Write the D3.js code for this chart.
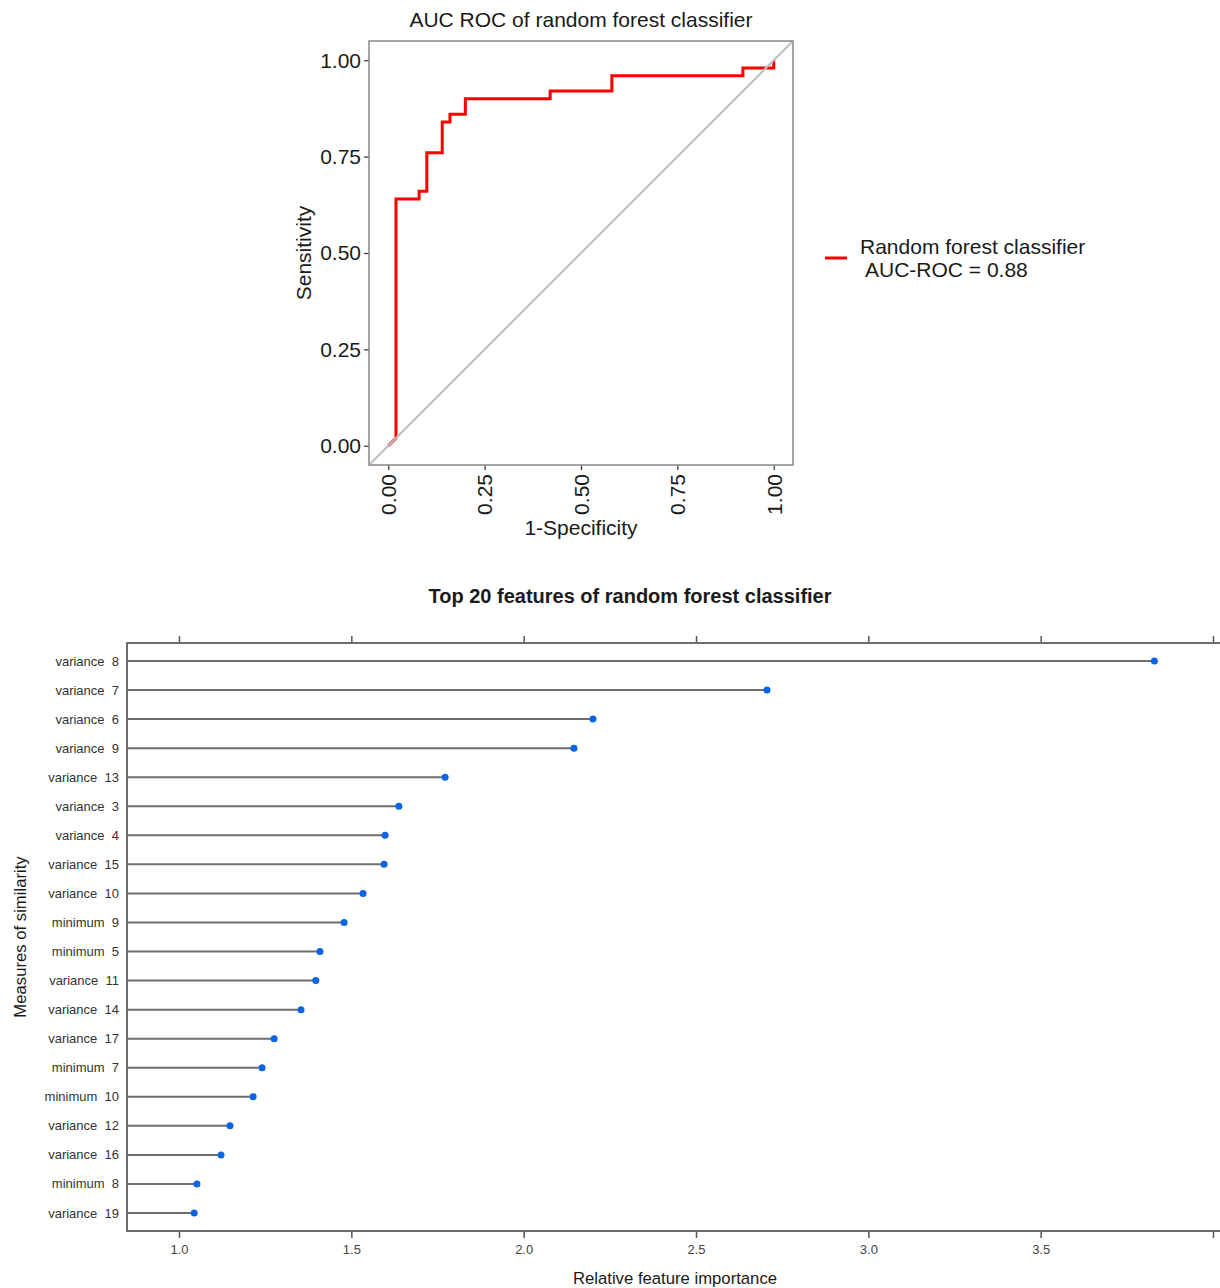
<!DOCTYPE html>
<html>
<head>
<meta charset="utf-8">
<script src="https://cdn.jsdelivr.net/npm/d3@7"></script>
<style>
body{margin:0;background:#fff;}
svg{font-family:"Liberation Sans",Arial,sans-serif;}
</style>
</head>
<body>
<div id="main_div"></div>
<script>
// ROC curve points
let fpr=[0,0.02,0.02,0.08,0.08,0.10,0.10,0.14,0.14,0.16,0.16,0.20,0.20,0.42,0.42,0.58,0.58,0.92,0.92,1.00,1.00];
let tpr=[0,0.02,0.64,0.64,0.66,0.66,0.76,0.76,0.84,0.84,0.86,0.86,0.90,0.90,0.92,0.92,0.96,0.96,0.98,0.98,1.00];
let rocTicks=[0,0.25,0.5,0.75,1];

// feature importance
let features=["variance  8","variance  7","variance  6","variance  9","variance  13","variance  3","variance  4",
    "variance  15","variance  10","minimum  9","minimum  5","variance  11","variance  14","variance  17",
    "minimum  7","minimum  10","variance  12","variance  16","minimum  8","variance  19"];
let importance=[3.83,2.706,2.201,2.146,1.772,1.638,1.598,1.595,1.534,1.479,1.409,1.397,1.354,1.276,
    1.241,1.215,1.148,1.122,1.052,1.044];
let impTicks=[1.0,1.5,2.0,2.5,3.0,3.5,4.0];

let svg=d3.select("#main_div").append("svg")
    .attr("width",1220).attr("height",1288).attr("id","main_svg");

drawRoc();
drawImportance();

function drawRoc(){
    let xScale=d3.scaleLinear().domain([-0.05,1.05]).range([369,793]);
    let yScale=d3.scaleLinear().domain([-0.05,1.05]).range([465,41]);
    let g=svg.append("g");

    g.append("text").text("AUC ROC of random forest classifier")
        .attr("x",581).attr("y",27).attr("text-anchor","middle")
        .style("font-size","21px").attr("fill","#1a1a1a");

    // axes
    let yAxis=d3.axisLeft(yScale).tickValues(rocTicks).tickFormat(d3.format(".2f")).tickSize(5).tickPadding(3);
    let xAxis=d3.axisBottom(xScale).tickValues(rocTicks).tickFormat(d3.format(".2f")).tickSize(5).tickPadding(3);
    let ya=g.append("g").attr("transform","translate(369,0)").call(yAxis);
    let xa=g.append("g").attr("transform","translate(0,465)").call(xAxis);
    [ya,xa].forEach(a=>{
        a.select(".domain").remove();
        a.selectAll(".tick line").attr("stroke","#333").attr("stroke-width",1.2);
        a.selectAll("text").attr("fill","#1a1a1a").style("font-size","21px");
    });
    xa.selectAll("text")
        .attr("transform","rotate(-90)")
        .attr("text-anchor","end")
        .attr("x",-9).attr("y",0).attr("dy","0.35em");

    let line=d3.line().x(d=>xScale(d[0])).y(d=>yScale(d[1]));
    let pts=fpr.map((f,i)=>[f,tpr[i]]);
    g.append("path").datum(pts).attr("d",line)
        .attr("fill","none").attr("stroke","#ff0000").attr("stroke-width",3);

    // chance line across the whole panel
    g.append("line")
        .attr("x1",xScale(-0.05)).attr("y1",yScale(-0.05))
        .attr("x2",xScale(1.05)).attr("y2",yScale(1.05))
        .attr("stroke","#bebebe").attr("stroke-width",2);

    g.append("rect").attr("x",369).attr("y",41).attr("width",424).attr("height",424)
        .attr("fill","none").attr("stroke","#888").attr("stroke-width",1.5);

    g.append("text").text("1-Specificity")
        .attr("x",581).attr("y",535).attr("text-anchor","middle")
        .style("font-size","21px").attr("fill","#1a1a1a");
    g.append("text").text("Sensitivity")
        .attr("transform","translate(311,253) rotate(-90)").attr("text-anchor","middle")
        .style("font-size","21px").attr("fill","#1a1a1a");

    // legend
    g.append("line").attr("x1",825).attr("x2",847).attr("y1",258).attr("y2",258)
        .attr("stroke","#ff0000").attr("stroke-width",3);
    g.append("text").text("Random forest classifier")
        .attr("x",860).attr("y",254).style("font-size","21px").attr("fill","#1a1a1a");
    g.append("text").text("AUC-ROC = 0.88")
        .attr("x",865).attr("y",277).style("font-size","21px").attr("fill","#1a1a1a");
}

function drawImportance(){
    let xScale=d3.scaleLinear().domain([1,4]).range([179,1213]);
    let yScale=d3.scalePoint().domain(features).range([661,1213]);
    let left=127,top=643,bottom=1231;
    let g=svg.append("g");

    g.append("text").text("Top 20 features of random forest classifier")
        .attr("x",630).attr("y",603).attr("text-anchor","middle")
        .style("font-size","20px").style("font-weight","bold").attr("fill","#1a1a1a");

    let xAxisB=d3.axisBottom(xScale).tickValues(impTicks).tickSize(7).tickPadding(7)
        .tickFormat(d=>d==4?"":d3.format(".1f")(d));
    let xAxisT=d3.axisTop(xScale).tickValues(impTicks).tickSize(7).tickFormat("");
    let xb=g.append("g").attr("transform","translate(0,"+bottom+")").call(xAxisB);
    let xt=g.append("g").attr("transform","translate(0,"+top+")").call(xAxisT);
    [xb,xt].forEach(a=>{
        a.select(".domain").remove();
        a.selectAll(".tick line").attr("stroke","#555").attr("stroke-width",1.5);
        a.selectAll("text").attr("fill","#444").style("font-size","13px");
    });

    // stems
    g.selectAll(".stem").data(features).enter().append("line")
        .attr("class","stem")
        .attr("x1",left).attr("x2",(d,i)=>xScale(importance[i]))
        .attr("y1",d=>yScale(d)).attr("y2",d=>yScale(d))
        .attr("stroke","#6e6e6e").attr("stroke-width",2);
    g.selectAll(".dot").data(features).enter().append("circle")
        .attr("class","dot")
        .attr("cx",(d,i)=>xScale(importance[i])).attr("cy",d=>yScale(d)).attr("r",3.5)
        .attr("fill","#0a64e6");

    // labels
    g.selectAll(".lab").data(features).enter().append("text")
        .attr("class","lab").text(d=>d)
        .attr("x",119).attr("y",d=>yScale(d)).attr("dy","0.35em")
        .attr("text-anchor","end").style("font-size","13px").style("white-space","pre")
        .attr("fill","#333");

    // panel border (right side runs off the picture)
    g.append("path")
        .attr("d","M1230,"+top+"H"+left+"V"+bottom+"H1230")
        .attr("fill","none").attr("stroke","#6e6e6e").attr("stroke-width",2);

    g.append("text").text("Relative feature importance")
        .attr("x",675).attr("y",1284).attr("text-anchor","middle")
        .style("font-size","16.7px").attr("fill","#1a1a1a");
    g.append("text").text("Measures of similarity")
        .attr("transform","translate(26,937) rotate(-90)").attr("text-anchor","middle")
        .style("font-size","16.7px").attr("fill","#1a1a1a");
}
</script>
</body>
</html>
